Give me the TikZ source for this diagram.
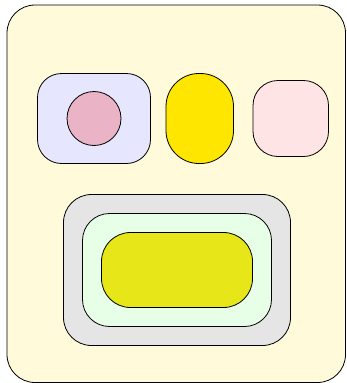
\documentclass[tikz,border=0pt]{standalone}
\usetikzlibrary{positioning}
\definecolor{bgyellow}{HTML}{FFFAD9}
\definecolor{lavender}{HTML}{E6E6FF}
\definecolor{pinkc}{HTML}{EBB3C6}
\definecolor{yellowc}{HTML}{FFE600}
\definecolor{lpink}{HTML}{FFE4E6}
\definecolor{grayc}{HTML}{E5E5E5}
\definecolor{greenc}{HTML}{E6FFE6}
\definecolor{ygreen}{HTML}{E6E619}
\tikzset{box/.style={draw=black, line width=0.8pt}}
\begin{document}
\begin{tikzpicture}[x=1pt,y=-1pt]
\useasboundingbox (0,0) rectangle (347,383);
\draw[box, rounded corners=28pt, fill=bgyellow] (7,5) rectangle (345.5,382.5);
\draw[box, rounded corners=24pt, fill=lavender] (37.5,73.5) rectangle (150.5,163.5);
\draw[box, fill=pinkc] (94,118.5) circle (27);
\draw[box, rounded corners=33pt, fill=yellowc] (166,73.5) rectangle (233.5,163.5);
\draw[box, rounded corners=25pt, fill=lpink] (253,80.5) rectangle (328.5,156.5);
\draw[box, rounded corners=28pt, fill=grayc] (63.5,194.5) rectangle (290.5,345.5);
\draw[box, rounded corners=27pt, fill=greenc] (82.5,213.5) rectangle (271.5,326.5);
\draw[box, rounded corners=29pt, fill=ygreen] (101.5,232.5) rectangle (252.5,307.5);
\end{tikzpicture}
\end{document}
